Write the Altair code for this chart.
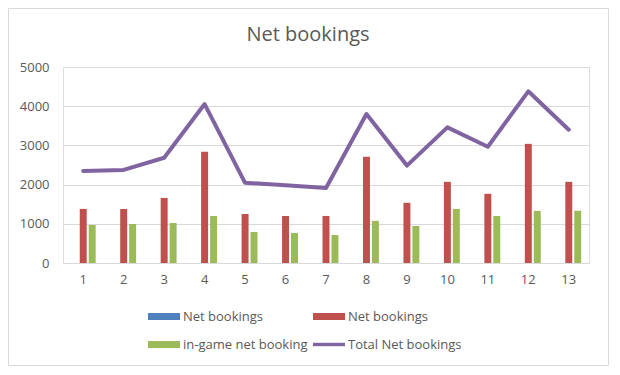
import altair as alt
import pandas as pd

# ---- data ----
categories = list(range(1, 14))
net_bookings_red = [1380, 1380, 1660, 2835, 1250, 1200, 1200, 2710, 1535, 2070, 1765, 3040, 2070]
in_game_net_booking = [970, 995, 1020, 1200, 790, 765, 715, 1075, 945, 1380, 1200, 1330, 1330]
total_net_bookings = [2350, 2375, 2685, 4055, 2045, 1985, 1915, 3800, 2485, 3460, 2965, 4380, 3400]

series_keys = ["blue", "red", "green", "total"]
series_labels = ["Net bookings", "Net bookings", "in-game net booking", "Total Net bookings"]
series_colors = ["#4f81bd", "#c0504d", "#9bbb59", "#8064a2"]
y_ticks = [0, 1000, 2000, 3000, 4000, 5000]

FONT = "Open Sans"
TXT = "#595959"

bars_df = pd.DataFrame(
    [{"cat": c, "series": "red", "value": v} for c, v in zip(categories, net_bookings_red)]
    + [{"cat": c, "series": "green", "value": v} for c, v in zip(categories, in_game_net_booking)]
)
line_df = pd.DataFrame({"cat": categories, "series": "total", "value": total_net_bookings})

label_expr = " : ".join(
    f"datum.value === '{k}' ? '{l}'" for k, l in zip(series_keys[:-1], series_labels[:-1])
) + f" : '{series_labels[-1]}'"

bar_path = "M-1.6,-0.35H1.6V0.35H-1.6Z"
line_path = "M-1.6,-0.17H1.6V0.17H-1.6Z"

color_scale = alt.Scale(domain=series_keys, range=series_colors)

x_enc = alt.X(
    "cat:O",
    scale=alt.Scale(paddingInner=0.385, paddingOuter=0.1925),
    axis=alt.Axis(
        title=None, labelAngle=0, ticks=False, domain=False, grid=False,
        labelFont=FONT, labelFontSize=13, labelColor=TXT, labelPadding=10,
    ),
)
y_enc = alt.Y(
    "value:Q",
    scale=alt.Scale(domain=[0, 5000], nice=False),
    axis=alt.Axis(
        title=None, values=y_ticks, format="d", ticks=False, domain=False,
        gridColor="#d9d9d9", gridWidth=1,
        labelFont=FONT, labelFontSize=13, labelColor=TXT, labelPadding=14,
    ),
)

legend = alt.Legend(
    title=None,
    orient="none",
    direction="horizontal",
    legendX=91,
    legendY=239.5,
    columns=2,
    columnPadding=5,
    rowPadding=11,
    symbolSize=400,
    symbolType={"expr": f"datum.value === 'total' ? '{line_path}' : '{bar_path}'"},
    symbolStrokeWidth=0,
    symbolOpacity=1,
    labelOffset=9,
    labelFont=FONT,
    labelFontSize=13,
    labelColor=TXT,
    labelLimit=300,
    labelExpr=label_expr,
)

color_enc = alt.Color("series:N", scale=color_scale, legend=legend)

bars = alt.Chart(bars_df).mark_bar().encode(
    x=x_enc,
    xOffset=alt.XOffset(
        "series:N",
        scale=alt.Scale(domain=["blue", "red", "green"], paddingInner=0.222, paddingOuter=0),
    ),
    y=y_enc,
    color=color_enc,
)

line = alt.Chart(line_df).mark_line(strokeWidth=4, strokeJoin="round", strokeCap="round").encode(
    x=x_enc,
    y=y_enc,
    color=color_enc,
)

border = alt.Chart(alt.Data(values=[{}])).mark_rect(
    fill="white", fillOpacity=0, stroke="#d9d9d9", strokeWidth=1
).encode(
    x=alt.value(-54.5), x2=alt.value(545.5), y=alt.value(-58.5), y2=alt.value(298.5)
)

chart = (
    alt.layer(border, bars, line)
    .properties(
        width=526,
        height=196,
        padding=0,
        title=alt.TitleParams(
            "Net bookings", font=FONT, fontSize=20, fontWeight="normal", color=TXT,
            anchor="middle", frame="group", dx=-18, offset=-37,
        ),
    )
    .configure_view(strokeWidth=0)
    .configure(background="white")
)

chart.save("out.html", embed_options={"renderer": "svg", "actions": False})
